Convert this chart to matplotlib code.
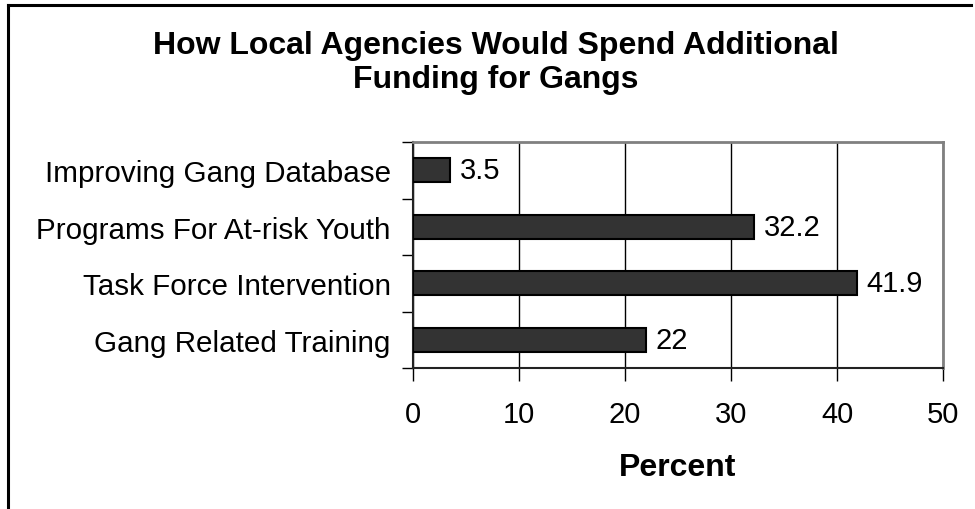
import matplotlib
matplotlib.use("Agg")
import matplotlib.pyplot as plt
from matplotlib.lines import Line2D

categories = ["Improving Gang Database", "Programs For At-risk Youth",
              "Task Force Intervention", "Gang Related Training"]
values = [3.5, 32.2, 41.9, 22]
value_labels = ["3.5", "32.2", "41.9", "22"]
xticks = [0, 10, 20, 30, 40, 50]
title = "How Local Agencies Would Spend Additional\nFunding for Gangs"
xlabel = "Percent"

plt.rcParams['font.family'] = ['Liberation Sans', 'DejaVu Sans']

fig = plt.figure(figsize=(9.75, 5.1), dpi=100)
W, H = 975, 510
ax = fig.add_axes([413 / W, 1 - 369 / H, (943 - 413) / W, (369 - 143) / H])

n = len(categories)
ypos = list(range(n))
ax.barh(ypos, values, height=0.43, color="#333333", edgecolor="black",
        linewidth=1.5, zorder=3)
ax.set_ylim(n - 0.5, -0.5)
ax.set_xlim(0, 50)
ax.set_xticks(xticks)
ax.set_xticklabels([str(t) for t in xticks], fontsize=21)
ax.set_yticks([y for y in ypos])
ax.set_yticklabels(categories, fontsize=21.3)
ax.tick_params(axis='y', length=0, pad=16)
ax.set_yticks([y - 0.5 for y in range(n + 1)], minor=True)
ax.tick_params(axis='y', which='minor', length=8, width=1, direction='out', color='black')
ax.tick_params(axis='x', length=9, width=1, direction='out', pad=14, color='black')
ax.grid(axis='x', color='black', linewidth=1, zorder=0)
ax.set_axisbelow(True)

for y, v, lab in zip(ypos, values, value_labels):
    ax.text(v + 0.9, y, lab, va='center', ha='left', fontsize=21, zorder=4)

for s in ['top', 'right']:
    ax.spines[s].set_color('#808080')
    ax.spines[s].set_linewidth(2)
for s in ['left', 'bottom']:
    ax.spines[s].set_color('#222222')
    ax.spines[s].set_linewidth(1.5)

ax.set_xlabel(xlabel, fontsize=23, fontweight='bold', labelpad=17)

fig.text(496 / W, 1 - 63 / H, title, ha='center', va='center', fontsize=23,
         fontweight='bold', linespacing=1.15)

# outer frame (left and top edges)
fig.add_artist(Line2D([8 / W, 8 / W], [0, 1 - 6 / H], color='black', linewidth=2.2,
                      transform=fig.transFigure))
fig.add_artist(Line2D([8 / W, 971 / W], [1 - 6 / H, 1 - 6 / H], color='black',
                      linewidth=2.2, transform=fig.transFigure))

fig.savefig("out.png", dpi=100)
